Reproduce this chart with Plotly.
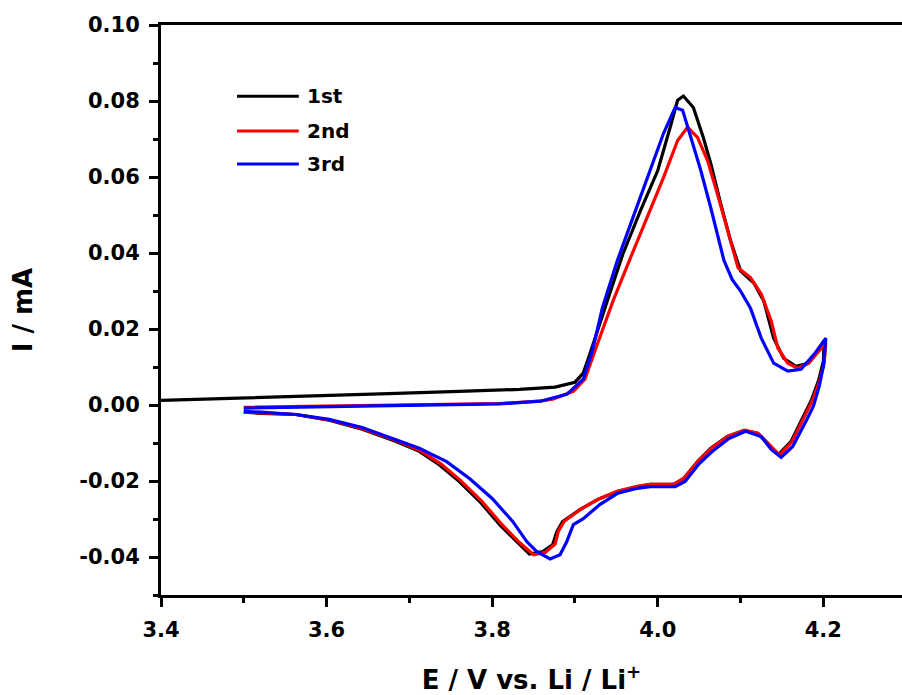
import plotly.graph_objects as go

# ---- data (E in V vs Li/Li+, I in mA) ----
# 1st cycle
c1_up_E = [3.400, 3.450, 3.506, 3.591, 3.675, 3.760, 3.833, 3.876, 3.900, 3.910, 3.918, 3.939,
           3.958, 3.979, 4.000, 4.015, 4.024, 4.031, 4.043, 4.055, 4.064, 4.076, 4.088, 4.100,
           4.116, 4.128, 4.140, 4.152, 4.167, 4.182, 4.194, 4.201]
c1_up_I = [0.0012, 0.0015, 0.0018, 0.0024, 0.0030, 0.0036, 0.0041, 0.0047, 0.0060, 0.0084, 0.0134, 0.0274,
           0.0398, 0.0511, 0.0617, 0.0731, 0.0802, 0.0813, 0.0783, 0.0704, 0.0636, 0.0530, 0.0432, 0.0353,
           0.0321, 0.0274, 0.0176, 0.0123, 0.0102, 0.0110, 0.0142, 0.0170]
c1_dn_E = [4.200, 4.194, 4.185, 4.177, 4.161, 4.146, 4.133, 4.121, 4.104, 4.084, 4.064, 4.048,
           4.031, 4.019, 3.991, 3.975, 3.951, 3.927, 3.906, 3.894, 3.885, 3.878, 3.873, 3.861,
           3.845, 3.830, 3.809, 3.785, 3.760, 3.736, 3.712, 3.684, 3.643, 3.603, 3.563, 3.521, 3.500]
c1_dn_I = [0.0115, 0.0063, 0.0010, -0.0025, -0.0096, -0.0130, -0.0101, -0.0075, -0.0067, -0.0083, -0.0114, -0.0149,
           -0.0194, -0.0209, -0.0209, -0.0215, -0.0228, -0.0249, -0.0275, -0.0294, -0.0307, -0.0334, -0.0368, -0.0386,
           -0.0392, -0.0360, -0.0315, -0.0254, -0.0201, -0.0157, -0.0122, -0.0096, -0.0064, -0.0040, -0.0025, -0.0022, -0.0019]

# 2nd cycle
c2_up_E = [3.500, 3.603, 3.724, 3.809, 3.858, 3.873, 3.898, 3.912, 3.927, 3.946, 3.967, 3.987,
           4.007, 4.024, 4.036, 4.048, 4.060, 4.072, 4.084, 4.097, 4.112, 4.125, 4.137, 4.145,
           4.157, 4.169, 4.182, 4.194, 4.203]
c2_up_I = [-0.0006, -0.0003, 0.0000, 0.0004, 0.0010, 0.0015, 0.0036, 0.0068, 0.0160, 0.0274, 0.0387, 0.0493,
           0.0599, 0.0696, 0.0731, 0.0704, 0.0644, 0.0556, 0.0459, 0.0361, 0.0335, 0.0292, 0.0221, 0.0150,
           0.0110, 0.0097, 0.0110, 0.0142, 0.0163]
c2_dn_E = [4.201, 4.195, 4.186, 4.178, 4.162, 4.147, 4.134, 4.121, 4.105, 4.085, 4.065, 4.049,
           4.032, 4.020, 3.991, 3.975, 3.951, 3.928, 3.908, 3.895, 3.887, 3.880, 3.876, 3.864,
           3.850, 3.833, 3.812, 3.787, 3.762, 3.738, 3.713, 3.685, 3.643, 3.603, 3.563, 3.521, 3.500]
c2_dn_I = [0.0110, 0.0060, 0.0008, -0.0027, -0.0097, -0.0132, -0.0102, -0.0074, -0.0066, -0.0082, -0.0113, -0.0147,
           -0.0192, -0.0208, -0.0209, -0.0214, -0.0227, -0.0248, -0.0273, -0.0292, -0.0306, -0.0332, -0.0366, -0.0388,
           -0.0394, -0.0362, -0.0315, -0.0252, -0.0199, -0.0155, -0.0120, -0.0094, -0.0062, -0.0039, -0.0025, -0.0021, -0.0018]

# 3rd cycle
c3_up_E = [3.500, 3.603, 3.724, 3.809, 3.858, 3.890, 3.910, 3.921, 3.933, 3.951, 3.970, 3.991,
           4.007, 4.021, 4.030, 4.040, 4.052, 4.064, 4.072, 4.080, 4.090, 4.100, 4.112, 4.125, 4.140,
           4.157, 4.173, 4.189, 4.203]
c3_up_I = [-0.0008, -0.0004, 0.0000, 0.0003, 0.0010, 0.0028, 0.0068, 0.0142, 0.0255, 0.0379, 0.0493, 0.0617,
           0.0715, 0.0783, 0.0776, 0.0704, 0.0617, 0.0519, 0.0450, 0.0380, 0.0330, 0.0300, 0.0255, 0.0176, 0.0110,
           0.0089, 0.0094, 0.0134, 0.0176]
c3_dn_E = [4.200, 4.195, 4.188, 4.179, 4.163, 4.149, 4.137, 4.125, 4.106, 4.086, 4.066, 4.049,
           4.033, 4.021, 3.991, 3.973, 3.951, 3.930, 3.910, 3.898, 3.890, 3.882, 3.870, 3.854,
           3.842, 3.825, 3.800, 3.773, 3.745, 3.712, 3.684, 3.643, 3.603, 3.563, 3.521, 3.500]
c3_dn_I = [0.0102, 0.0049, -0.0003, -0.0043, -0.0109, -0.0138, -0.0117, -0.0083, -0.0069, -0.0088, -0.0122, -0.0157,
           -0.0201, -0.0215, -0.0215, -0.0220, -0.0233, -0.0262, -0.0299, -0.0315, -0.0360, -0.0394, -0.0405, -0.0386,
           -0.0360, -0.0307, -0.0246, -0.0194, -0.0149, -0.0114, -0.0091, -0.0059, -0.0038, -0.0025, -0.0019, -0.0017]

series_names = ["1st", "2nd", "3rd"]
series_colors = ["#000000", "#ff0000", "#0000ff"]

x_tick_vals = [3.4, 3.6, 3.8, 4.0, 4.2]
y_tick_vals = [-0.04, -0.02, 0.00, 0.02, 0.04, 0.06, 0.08, 0.10]

FONT = "DejaVu Sans"

fig = go.Figure()
cycles = [
    (c1_up_E + c1_dn_E, c1_up_I + c1_dn_I),
    (c2_up_E + c2_dn_E, c2_up_I + c2_dn_I),
    (c3_up_E + c3_dn_E, c3_up_I + c3_dn_I),
]
for (E, I), name, col in zip(cycles, series_names, series_colors):
    fig.add_trace(go.Scatter(x=E, y=I, mode="lines", name=name,
                             line=dict(color=col, width=3.2), showlegend=False))

# manual legend (line samples + labels)
legend_rows_y = [0.875, 0.814, 0.756]
for name, col, yy in zip(series_names, series_colors, legend_rows_y):
    fig.add_shape(type="line", xref="paper", yref="paper", x0=0.1026, x1=0.186, y0=yy, y1=yy,
                  line=dict(color=col, width=3))
    fig.add_annotation(xref="paper", yref="paper", x=0.195, y=yy, text=f"<b>{name}</b>",
                       showarrow=False, xanchor="left", yanchor="middle",
                       font=dict(family=FONT, size=20, color="black"))

axis_common = dict(showline=True, linecolor="black", linewidth=3, ticks="outside",
                   tickwidth=3, ticklen=9, tickcolor="black", showgrid=False, zeroline=False,
                   ticklabelstandoff=5,
                   tickfont=dict(family=FONT, size=21, color="black"))

fig.update_xaxes(range=[3.4, 4.295], tickvals=x_tick_vals,
                 ticktext=[f"<b>{v:.1f}</b>" for v in x_tick_vals],
                 mirror=True,
                 minor=dict(ticks="outside", dtick=0.1, tick0=3.4, ticklen=5, tickwidth=3, tickcolor="black"),
                 title=dict(text="<b>E / V vs. Li / Li<sup>+</sup></b>", standoff=34,
                            font=dict(family=FONT, size=26, color="black")),
                 **axis_common)
fig.update_yaxes(range=[-0.05, 0.10], tickvals=y_tick_vals,
                 ticktext=[f"<b>{v:.2f}</b>" for v in y_tick_vals],
                 mirror=False,
                 minor=dict(ticks="outside", dtick=0.01, tick0=0, ticklen=5, tickwidth=3, tickcolor="black"),
                 title=dict(text="<b>I / mA</b>", standoff=40,
                            font=dict(family=FONT, size=26, color="black")),
                 **axis_common)

fig.update_layout(width=902, height=695, margin=dict(l=161, r=0, t=25, b=100),
                  plot_bgcolor="white", paper_bgcolor="white", showlegend=False)

fig.write_html("out.html")
